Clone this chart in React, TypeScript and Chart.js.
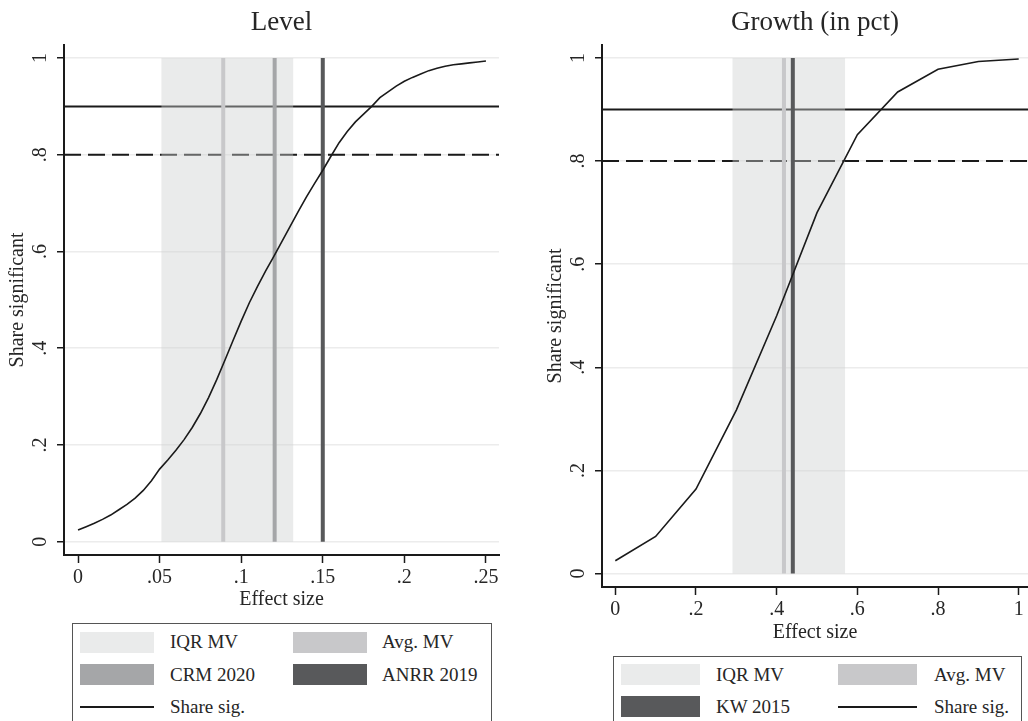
import React, { useEffect, useRef } from 'react';
import { Chart, registerables } from 'chart.js';

Chart.register(...registerables);

const FONT = "'Liberation Serif', 'Times New Roman', serif";
const TEXT = '#262626';
const AXIS = '#1a1a1a';
const GRID = '#ececec';
const BAND = 'rgba(205,208,208,0.42)';
const BAND_SWATCH = '#eaebeb';
const AVG_COLOR = '#c8c8ca';
const CRM_COLOR = '#a5a6a8';
const DARK_COLOR = '#58595b';

// ---- Level panel data ----
const LEVEL_EFFECT = [0, 0.005, 0.01, 0.015, 0.02, 0.025, 0.03, 0.035, 0.04, 0.045, 0.05, 0.055, 0.06, 0.065, 0.07, 0.075, 0.08, 0.085, 0.09, 0.095, 0.1, 0.105, 0.11, 0.115, 0.12, 0.125, 0.13, 0.135, 0.14, 0.145, 0.15, 0.155, 0.16, 0.165, 0.17, 0.175, 0.18, 0.185, 0.19, 0.195, 0.2, 0.205, 0.21, 0.215, 0.22, 0.225, 0.23, 0.235, 0.24, 0.245, 0.25];
const LEVEL_SHARE = [0.024, 0.031, 0.038, 0.046, 0.055, 0.066, 0.077, 0.09, 0.106, 0.126, 0.15, 0.169, 0.189, 0.211, 0.236, 0.265, 0.298, 0.335, 0.375, 0.416, 0.456, 0.494, 0.528, 0.56, 0.59, 0.621, 0.652, 0.683, 0.713, 0.741, 0.768, 0.797, 0.825, 0.848, 0.868, 0.884, 0.9, 0.918, 0.93, 0.942, 0.952, 0.96, 0.967, 0.974, 0.979, 0.983, 0.986, 0.988, 0.99, 0.992, 0.994];
const LEVEL_IQR_MV = [0.051, 0.132];
const LEVEL_AVG_MV = 0.089;
const LEVEL_CRM_2020 = 0.1205;
const LEVEL_ANRR_2019 = 0.15;
const LEVEL_X_TICKS = [0, 0.05, 0.1, 0.15, 0.2, 0.25];
const LEVEL_X_RANGE = [-0.0086, 0.258];
const LEVEL_Y_RANGE = [-0.0276, 1.027];

// ---- Growth panel data ----
const GROWTH_EFFECT = [0, 0.1, 0.2, 0.3, 0.4, 0.5, 0.6, 0.7, 0.8, 0.9, 1];
const GROWTH_SHARE = [0.025, 0.072, 0.164, 0.317, 0.5, 0.7, 0.851, 0.934, 0.978, 0.993, 0.998];
const GROWTH_IQR_MV = [0.29, 0.57];
const GROWTH_AVG_MV = 0.418;
const GROWTH_KW_2015 = 0.44;
const GROWTH_X_TICKS = [0, 0.2, 0.4, 0.6, 0.8, 1];
const GROWTH_X_RANGE = [-0.033, 1.023];
const GROWTH_Y_RANGE = [-0.026, 1.025];

const Y_TICKS = [0, 0.2, 0.4, 0.6, 0.8, 1];
const TARGET_SOLID = 0.9;
const TARGET_DASHED = 0.8;

const fmt = (v: number) => {
  const s = String(v);
  return s.startsWith('0.') ? s.slice(1) : s;
};

type RefLine = { label: string; value: number; color: string };

type PanelProps = {
  left: number;
  width: number;
  height: number;
  padRight: number;
  title: string;
  xTicks: number[];
  xRange: number[];
  yRange: number[];
  effect: number[];
  share: number[];
  iqr: number[];
  refs: RefLine[];
  xTitlePad: number;
};

function Panel(p: PanelProps) {
  const ref = useRef<HTMLCanvasElement>(null);
  useEffect(() => {
    if (!ref.current) return;
    const font = { family: FONT, size: 20, weight: 'normal' as const };
    const datasets: any[] = [
      {
        label: 'Share sig.',
        data: p.effect.map((x, i) => ({ x, y: p.share[i] })),
        borderColor: '#1a1a1a',
        borderWidth: 1.6,
        pointRadius: 0,
        fill: false,
      },
      ...p.refs.map((r) => ({
        label: r.label,
        data: [{ x: r.value, y: 0 }, { x: r.value, y: 1 }],
        borderColor: r.color,
        borderWidth: 4,
        borderCapStyle: 'butt',
        pointRadius: 0,
        fill: false,
      })),
      {
        label: 'IQR MV',
        data: [{ x: p.iqr[0], y: 1 }, { x: p.iqr[1], y: 1 }],
        borderColor: 'rgba(0,0,0,0)',
        borderWidth: 0,
        backgroundColor: BAND,
        fill: 'origin',
        pointRadius: 0,
      },
      {
        label: 'target solid',
        data: [{ x: p.xRange[0], y: TARGET_SOLID }, { x: p.xRange[1], y: TARGET_SOLID }],
        borderColor: '#1a1a1a',
        borderWidth: 2,
        pointRadius: 0,
        fill: false,
      },
      {
        label: 'target dashed',
        data: [{ x: p.xRange[0], y: TARGET_DASHED }, { x: p.xRange[1], y: TARGET_DASHED }],
        borderColor: '#1a1a1a',
        borderWidth: 2,
        borderDash: [17, 7],
        pointRadius: 0,
        fill: false,
      },
    ];
    const chart = new Chart(ref.current, {
      type: 'line',
      data: { datasets },
      options: {
        animation: false,
        responsive: false,
        events: [],
        layout: { padding: { left: 0, right: p.padRight, top: 0, bottom: 0 } },
        plugins: {
          legend: { display: false },
          tooltip: { enabled: false },
          title: {
            display: true,
            text: p.title,
            fullSize: false,
            color: TEXT,
            font: { family: FONT, size: 27, weight: 'normal' },
            padding: { top: 7, bottom: 5.6 },
          },
        },
        scales: {
          x: {
            type: 'linear',
            position: 'bottom',
            min: p.xRange[0],
            max: p.xRange[1],
            afterBuildTicks: (s: any) => {
              s.ticks = p.xTicks.map((v) => ({ value: v }));
            },
            afterFit: (s: any) => {
              s.height = 60;
            },
            ticks: {
              callback: (v: any) => fmt(Number(v)),
              autoSkip: false,
              maxRotation: 0,
              minRotation: 0,
              padding: 2.3,
              color: TEXT,
              font,
            },
            grid: {
              drawOnChartArea: false,
              drawTicks: true,
              tickLength: 8,
              tickColor: AXIS,
              tickWidth: 1.5,
            },
            border: { display: true, color: AXIS, width: 2 },
            title: {
              display: true,
              text: 'Effect size',
              color: TEXT,
              font,
              padding: { top: 0, bottom: p.xTitlePad },
            },
          },
          y: {
            type: 'linear',
            position: 'left',
            min: p.yRange[0],
            max: p.yRange[1],
            afterBuildTicks: (s: any) => {
              s.ticks = Y_TICKS.map((v) => ({ value: v }));
            },
            afterFit: (s: any) => {
              s.width = 64;
            },
            ticks: {
              callback: (v: any) => fmt(Number(v)),
              autoSkip: false,
              minRotation: 90,
              maxRotation: 90,
              crossAlign: 'center',
              padding: 9,
              color: TEXT,
              font,
            },
            grid: {
              color: GRID,
              lineWidth: 1.5,
              drawTicks: true,
              tickLength: 7,
              tickColor: AXIS,
              tickWidth: 1.5,
            },
            border: { display: true, color: AXIS, width: 2 },
            title: {
              display: true,
              text: 'Share significant',
              color: TEXT,
              font,
              padding: { top: 6, bottom: 0 },
            },
          },
        },
      } as any,
    });
    return () => chart.destroy();
  }, []);
  return (
    <canvas
      ref={ref}
      width={p.width}
      height={p.height}
      style={{ position: 'absolute', left: p.left, top: 0, width: p.width, height: p.height }}
    />
  );
}

type LegendEntry = {
  label: string;
  kind: 'box' | 'line';
  color: string;
  swatchLeft: number;
  swatchWidth: number;
  textLeft: number;
  cy: number;
};

function Legend({ box, entries }: { box: { left: number; top: number; width: number }; entries: LegendEntry[] }) {
  return (
    <>
      <div
        style={{
          position: 'absolute',
          left: box.left,
          top: box.top,
          width: box.width,
          height: 140,
          border: '1.5px solid #555',
          boxSizing: 'border-box',
        }}
      />
      {entries.map((e, i) => (
        <React.Fragment key={i}>
          <div
            style={{
              position: 'absolute',
              left: e.swatchLeft,
              top: e.kind === 'box' ? e.cy - 10.5 : e.cy - 1,
              width: e.swatchWidth,
              height: e.kind === 'box' ? 21 : 2,
              background: e.color,
            }}
          />
          <div
            style={{
              position: 'absolute',
              left: e.textLeft,
              top: e.cy - 12,
              height: 24,
              lineHeight: '24px',
              fontFamily: FONT,
              fontSize: 19,
              color: TEXT,
              whiteSpace: 'nowrap',
            }}
          >
            {e.label}
          </div>
        </React.Fragment>
      ))}
    </>
  );
}

export default function App() {
  const leftEntries: LegendEntry[] = [
    { label: 'IQR MV', kind: 'box', color: BAND_SWATCH, swatchLeft: 80, swatchWidth: 74, textLeft: 170, cy: 642.3 },
    { label: 'Avg. MV', kind: 'box', color: AVG_COLOR, swatchLeft: 293, swatchWidth: 74, textLeft: 382, cy: 642.3 },
    { label: 'CRM 2020', kind: 'box', color: CRM_COLOR, swatchLeft: 80, swatchWidth: 74, textLeft: 170, cy: 674.5 },
    { label: 'ANRR 2019', kind: 'box', color: DARK_COLOR, swatchLeft: 293, swatchWidth: 74, textLeft: 382, cy: 674.5 },
    { label: 'Share sig.', kind: 'line', color: '#1a1a1a', swatchLeft: 80, swatchWidth: 74, textLeft: 170, cy: 706.7 },
  ];
  const rightEntries: LegendEntry[] = [
    { label: 'IQR MV', kind: 'box', color: BAND_SWATCH, swatchLeft: 621, swatchWidth: 79, textLeft: 716, cy: 674.5 },
    { label: 'Avg. MV', kind: 'box', color: AVG_COLOR, swatchLeft: 838, swatchWidth: 79, textLeft: 934, cy: 674.5 },
    { label: 'KW 2015', kind: 'box', color: DARK_COLOR, swatchLeft: 621, swatchWidth: 79, textLeft: 716, cy: 706.7 },
    { label: 'Share sig.', kind: 'line', color: '#1a1a1a', swatchLeft: 838, swatchWidth: 79, textLeft: 934, cy: 706.7 },
  ];
  return (
    <div
      style={{
        position: 'fixed',
        left: 0,
        top: 0,
        width: 1028,
        height: 721,
        overflow: 'hidden',
        background: '#fff',
      }}
    >
      <Panel
        left={0}
        width={520}
        height={615}
        padRight={21}
        title="Level"
        xTicks={LEVEL_X_TICKS}
        xRange={LEVEL_X_RANGE}
        yRange={LEVEL_Y_RANGE}
        effect={LEVEL_EFFECT}
        share={LEVEL_SHARE}
        iqr={LEVEL_IQR_MV}
        refs={[
          { label: 'ANRR 2019', value: LEVEL_ANRR_2019, color: DARK_COLOR },
          { label: 'CRM 2020', value: LEVEL_CRM_2020, color: CRM_COLOR },
          { label: 'Avg. MV', value: LEVEL_AVG_MV, color: AVG_COLOR },
        ]}
        xTitlePad={3.7}
      />
      <Panel
        left={538}
        width={490}
        height={647}
        padRight={0}
        title="Growth (in pct)"
        xTicks={GROWTH_X_TICKS}
        xRange={GROWTH_X_RANGE}
        yRange={GROWTH_Y_RANGE}
        effect={GROWTH_EFFECT}
        share={GROWTH_SHARE}
        iqr={GROWTH_IQR_MV}
        refs={[
          { label: 'KW 2015', value: GROWTH_KW_2015, color: DARK_COLOR },
          { label: 'Avg. MV', value: GROWTH_AVG_MV, color: AVG_COLOR },
        ]}
        xTitlePad={2.3}
      />
      <Legend box={{ left: 72, top: 623, width: 420 }} entries={leftEntries} />
      <Legend box={{ left: 612.7, top: 655.7, width: 409 }} entries={rightEntries} />
    </div>
  );
}
